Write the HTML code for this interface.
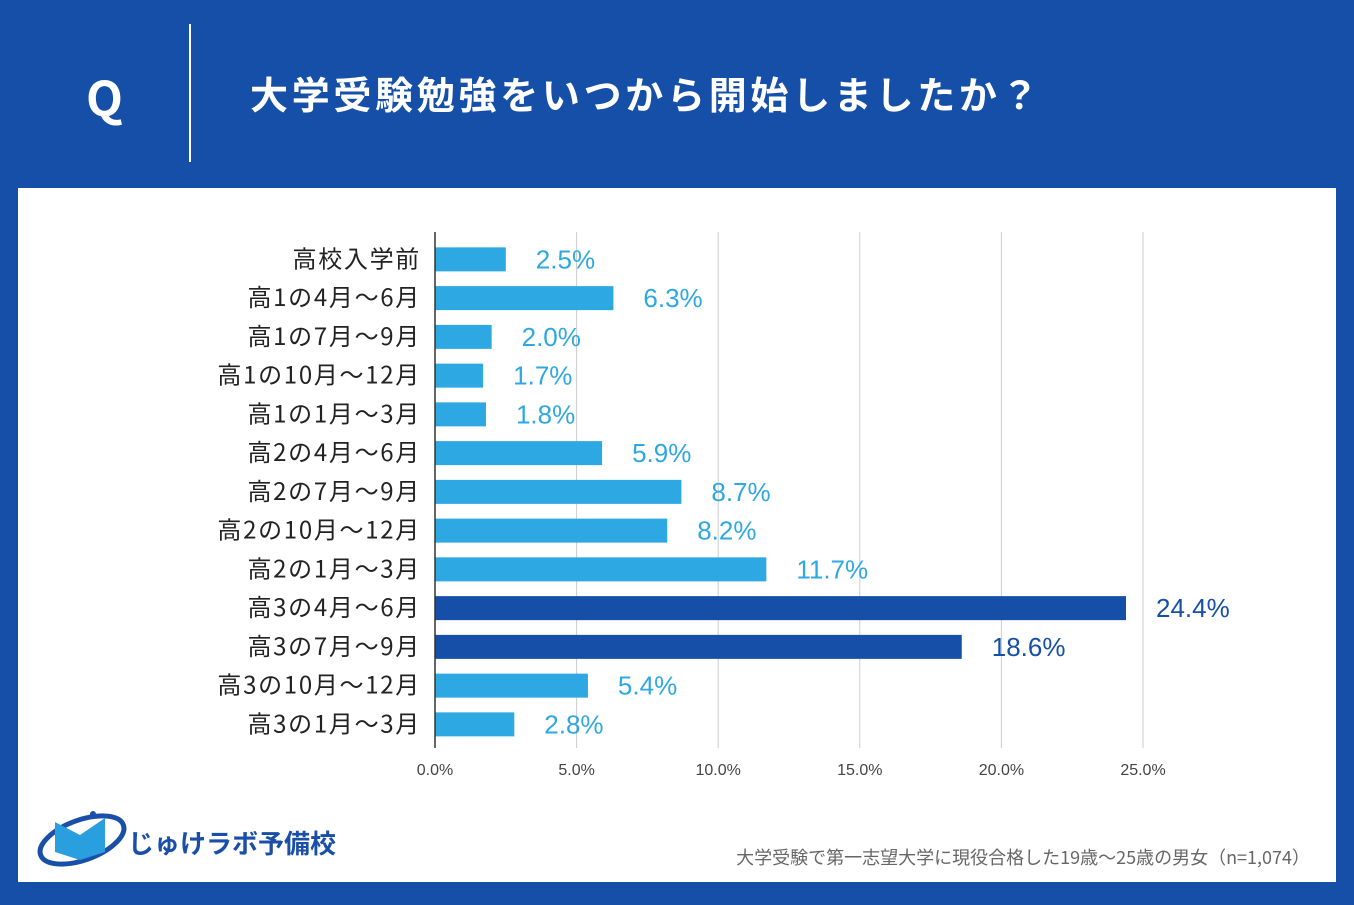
<!DOCTYPE html>
<html><head><meta charset="utf-8">
<style>
body{margin:0;width:1354px;height:905px;background:#154fa8;overflow:hidden;font-family:"Liberation Sans","Noto Sans CJK JP",sans-serif;}
#hdr-q{position:absolute;left:86px;top:60px;color:#fff;font-size:48px;font-weight:bold;font-family:"Noto Sans CJK JP",sans-serif;line-height:70px;}
#hdr-line{position:absolute;left:189px;top:24px;width:2px;height:138px;background:#fff;}
#title{position:absolute;left:250px;top:68px;color:#fff;font-size:38px;letter-spacing:3.7px;font-weight:bold;font-family:"Noto Sans CJK JP",sans-serif;line-height:50px;}
#panel{position:absolute;left:18px;top:188px;width:1318px;height:694px;background:#fff;}
svg{position:absolute;left:0;top:0;}
</style></head><body>
<div id="hdr-q">Q</div>
<div id="hdr-line"></div>
<div id="title">大学受験勉強をいつから開始しましたか？</div>
<div id="panel"></div>
<svg width="1354" height="905" id="chart">
<g id="logo">
<ellipse cx="82" cy="840" rx="44" ry="20" fill="none" stroke="#1a4fa8" stroke-width="5" transform="rotate(-20 82 840)"/>
<path d="M55 822 L80 835 L105 818 L105 852 L80 860 L55 852 Z" fill="#2a9fe0"/>
<circle cx="93" cy="814" r="3" fill="#1a4fa8"/>
<text x="128" y="853" font-size="26" font-weight="bold" fill="#1a4fa8" font-family="Noto Sans CJK JP,sans-serif">じゅけラボ予備校</text>
</g>
<text x="1310" y="864" text-anchor="end" font-size="18" fill="#666" font-family="Noto Sans CJK JP,sans-serif">大学受験で第一志望大学に現役合格した19歳～25歳の男女（n=1,074）</text>
</svg>
<script>
const categories=["高校入学前","高1の4月～6月","高1の7月～9月","高1の10月～12月","高1の1月～3月","高2の4月～6月","高2の7月～9月","高2の10月～12月","高2の1月～3月","高3の4月～6月","高3の7月～9月","高3の10月～12月","高3の1月～3月"];
const values=[2.5,6.3,2.0,1.7,1.8,5.9,8.7,8.2,11.7,24.4,18.6,5.4,2.8];
const highlight=[false,false,false,false,false,false,false,false,false,true,true,false,false];
const ticks=[0,5,10,15,20,25];
const svg=document.getElementById('chart');
const NS='http://www.w3.org/2000/svg';
const x0=435,pxPer=(1143-435)/25,yTop=240,step=38.75;
const xs=v=>x0+v*pxPer;
const yc=i=>yTop+step*(i+0.5);
function mk(t,a){const e=document.createElementNS(NS,t);for(const k in a)e.setAttribute(k,a[k]);svg.appendChild(e);return e;}
ticks.forEach(t=>{
 if(t>0){const g=mk('line',{x1:xs(t),x2:xs(t),y1:232,y2:748,stroke:'#ccc','stroke-width':1});
 
 }
 const l=mk('text',{x:xs(t),y:775,'text-anchor':'middle','font-size':16,fill:'#444'});
 l.textContent=t.toFixed(1)+'%';
 
 
});
values.forEach((v,i)=>{
 const col=highlight[i]?'#154fa8':'#2ea8e2';
 const r=mk('rect',{x:x0,y:yc(i)-12,width:xs(v)-x0,height:24,fill:col});
 
 
 const t=mk('text',{x:xs(v)+30,y:yc(i)+9,'font-size':26,fill:col});
 t.textContent=v.toFixed(1)+'%';
 
 
 const c=mk('text',{x:421,y:yc(i)+8,'text-anchor':'end','font-size':24,'letter-spacing':'1.7px',fill:'#222','font-family':'Noto Sans CJK JP,sans-serif'});
 c.textContent=categories[i];
 
 
});
const ax=mk('line',{x1:x0,x2:x0,y1:232,y2:748,stroke:'#333','stroke-width':1.5});


</script>
</body></html>
